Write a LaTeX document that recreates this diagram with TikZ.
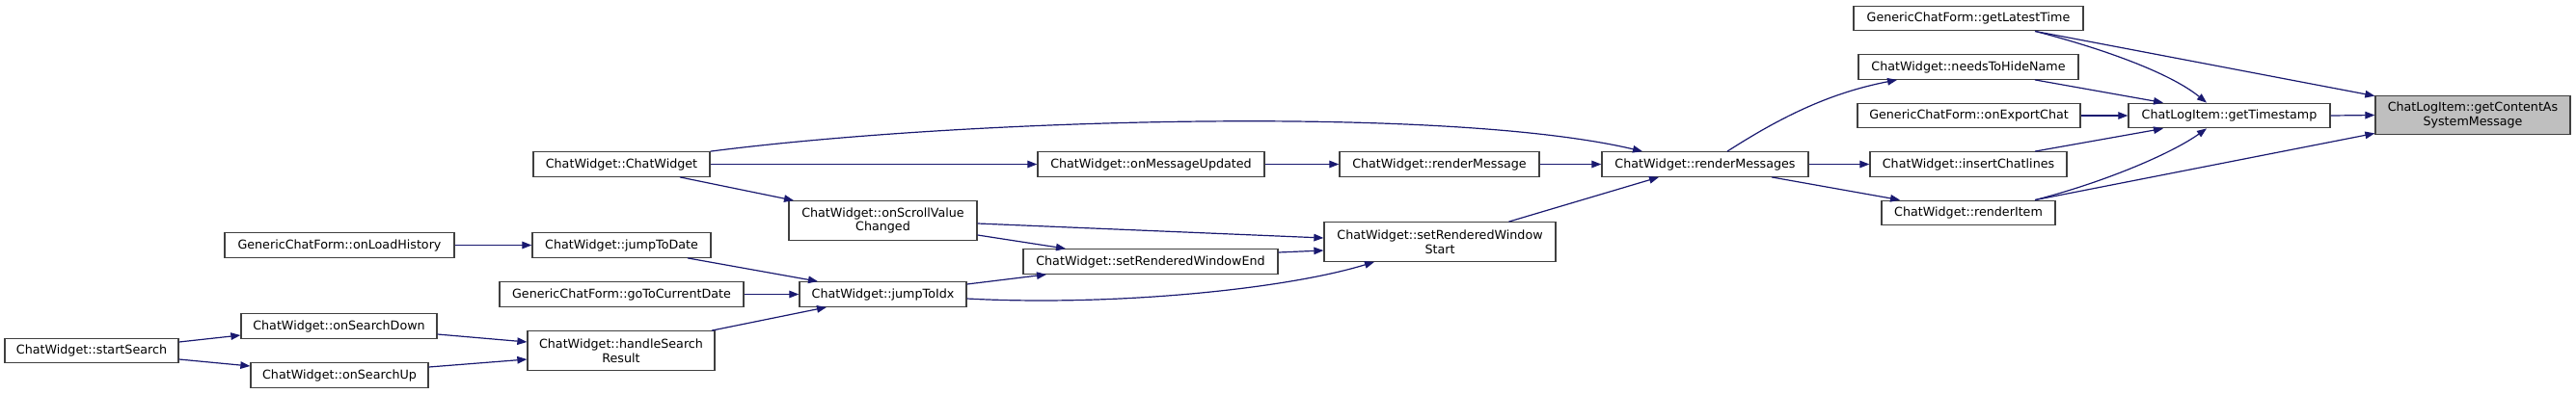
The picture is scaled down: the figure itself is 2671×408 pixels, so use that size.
\documentclass[tikz,border=0pt]{standalone}
\usepackage{fontspec}
\setmainfont{DejaVu Sans}
\usetikzlibrary{arrows.meta}
\definecolor{edgeblue}{HTML}{191970}
\definecolor{boxline}{HTML}{404040}
\definecolor{rootfill}{HTML}{BFBFBF}
\begin{document}
\begin{tikzpicture}[x=1pt,y=-1pt,
  fn/.style={draw=boxline,line width=1.3pt,fill=white,inner sep=0pt,align=center,
    font=\fontsize{12.7}{14.7}\selectfont,minimum height=25.5pt},
  fn2/.style={fn,minimum height=40.5pt},
  rootbox/.style={fn2,fill=rootfill},
  call/.style={draw=edgeblue,line width=1.2pt,-{Triangle[length=10pt,width=7.5pt]}}]
\useasboundingbox[fill=white] (0,0) rectangle (2671,408);
% nodes
\node[fn,minimum width=238pt] (glt) at (2041,19) {GenericChatForm::getLatestTime};
\node[fn,minimum width=228pt] (nthn) at (2041,69.5) {ChatWidget::needsToHideName};
\node[fn,minimum width=231pt] (oec) at (2041.5,120) {GenericChatForm::onExportChat};
\node[fn,minimum width=209pt] (gts) at (2311.5,120) {ChatLogItem::getTimestamp};
\node[rootbox,minimum width=202pt] (root) at (2564,119.5) {ChatLogItem::getContentAs\\SystemMessage};
\node[fn,minimum width=214pt] (rms) at (1768,170.5) {ChatWidget::renderMessages};
\node[fn,minimum width=204pt] (icl) at (2041,170.5) {ChatWidget::insertChatlines};
\node[fn,minimum width=180pt] (ri) at (2041,221) {ChatWidget::renderItem};
\node[fn,minimum width=183pt] (cw) at (644.5,170.5) {ChatWidget::ChatWidget};
\node[fn,minimum width=235pt] (omu) at (1193.5,170.5) {ChatWidget::onMessageUpdated};
\node[fn,minimum width=207pt] (msg) at (1492.5,170.5) {ChatWidget::renderMessage};
\node[fn2,minimum width=195pt] (osv) at (915.5,229) {ChatWidget::onScrollValue\\Changed};
\node[fn,minimum width=264pt] (rwe) at (1193,271.5) {ChatWidget::setRenderedWindowEnd};
\node[fn2,minimum width=240pt] (rws) at (1493,251) {ChatWidget::setRenderedWindow\\Start};
\node[fn,minimum width=185pt] (jtd) at (644.5,254.5) {ChatWidget::jumpToDate};
\node[fn,minimum width=238pt] (olh) at (352,254.5) {GenericChatForm::onLoadHistory};
\node[fn,minimum width=253pt] (gtcd) at (644.5,305.5) {GenericChatForm::goToCurrentDate};
\node[fn,minimum width=173pt] (jti) at (915.5,305.5) {ChatWidget::jumpToIdx};
\node[fn2,minimum width=194pt] (hsr) at (644,364) {ChatWidget::handleSearch\\Result};
\node[fn,minimum width=203pt] (osd) at (351.5,338.5) {ChatWidget::onSearchDown};
\node[fn,minimum width=184pt] (osu) at (352,389.5) {ChatWidget::onSearchUp};
\node[fn,minimum width=180pt] (ss) at (95,364) {ChatWidget::startSearch};
% edges
\draw[call] ([xshift=69pt]glt.south) -- ([yshift=-1pt]root.north west);
\draw[call] (gts.east) -- (root.west);
\draw[call] ([xshift=69pt]ri.north) -- ([yshift=2pt]root.south west);
\draw[call] ([xshift=69pt]glt.south) .. controls +(70,18) and +(-38,-31) .. ([xshift=-23.5pt]gts.north);
\draw[call] ([xshift=69pt]nthn.south) -- ([xshift=-68.5pt]gts.north);
\draw[call] (oec.east) -- (gts.west);
\draw[call] ([xshift=69pt]icl.north) -- ([xshift=-68.5pt]gts.south);
\draw[call] ([xshift=69pt]ri.north) .. controls +(70,-18) and +(-38,27) .. ([xshift=-23.5pt]gts.south);
\draw[call] ([xshift=23pt]rms.north) .. controls +(59,-38) and +(-67,13) .. ([xshift=-74pt]nthn.south);
\draw[call] (rms.east) -- (icl.west);
\draw[call] ([xshift=69pt]rms.south) -- ([xshift=-71pt]ri.north);
\draw[call] (msg.east) -- (rms.west);
\draw[call] (omu.east) -- (msg.west);
\draw[call] (cw.north east) .. controls +(264,-34) and +(-203,-48) .. ([xshift=-65pt]rms.north);
\draw[call] (cw.east) -- (omu.west);
\draw[call] ([xshift=60.5pt]cw.south) -- ([xshift=-92.5pt]osv.north);
\draw[call] ([xshift=71.5pt]rws.north) -- ([xshift=-48pt]rms.south);
\draw[call] ([yshift=-3pt]osv.east) -- ([yshift=4pt]rws.west);
\draw[call] ([yshift=-15pt]osv.east) -- ([xshift=-88pt]rwe.north);
\draw[call] ([yshift=9.5pt]rwe.east) -- ([yshift=-9pt]rws.west);
\draw[call] ([yshift=10.5pt]jti.east) -- ([xshift=-108pt]rwe.south);
\draw[call] ([yshift=-4.5pt]jti.east) .. controls +(148,8) and +(-95,29) .. ([xshift=-68pt]rws.south);
\draw[call] ([xshift=68.5pt]jtd.south) -- ([xshift=-67.5pt]jti.north);
\draw[call] (gtcd.east) -- (jti.west);
\draw[call] ([xshift=94pt]hsr.north) -- ([xshift=-58.5pt]jti.south);
\draw[call] (olh.east) -- (jtd.west);
\draw[call] ([yshift=9pt]ss.east) -- ([yshift=-9.5pt]osd.west);
\draw[call] ([yshift=-9pt]ss.east) -- ([yshift=9.5pt]osu.west);
\draw[call] ([yshift=-8.5pt]osd.east) -- ([yshift=9pt]hsr.west);
\draw[call] ([yshift=8.5pt]osu.east) -- ([yshift=-9pt]hsr.west);
\end{tikzpicture}
\end{document}
